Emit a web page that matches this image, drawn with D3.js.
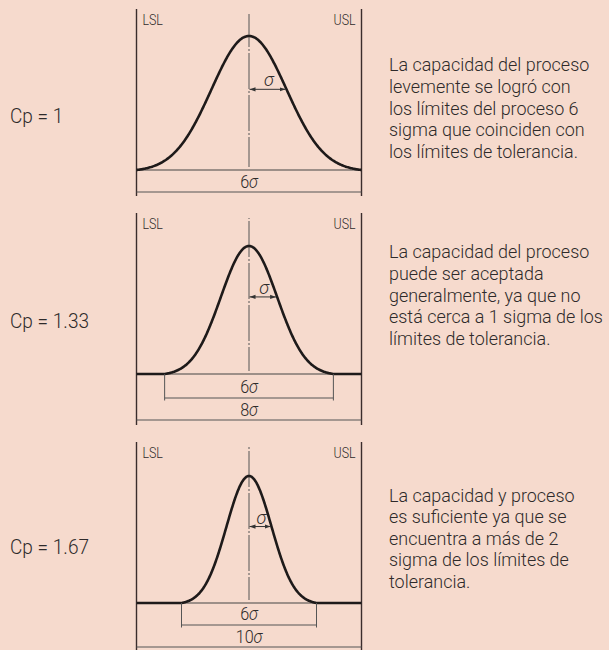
<!DOCTYPE html>
<html>
<head>
<meta charset="utf-8">
<script src="https://cdn.jsdelivr.net/npm/d3@7"></script>
<style>
  html, body { margin: 0; padding: 0; background: #f6dacd; }
  svg { display: block; }
  text { font-family: Roboto, "Open Sans", sans-serif; fill: #2e2a2a; font-weight: 300; }
</style>
</head>
<body>
<svg id="chart" width="609" height="650"></svg>
<script>
// ---------- data ----------
const cpLabels = ["Cp = 1", "Cp = 1.33", "Cp = 1.67"];
const toleranceHalfSigma = [3, 4, 5];          // half tolerance width in sigma units
const processHalfSigma = 3;                     // process spread ±3σ (6σ)
const processLabel = "6σ";
const toleranceLabels = ["6σ", "8σ", "10σ"];
const limitLabels = ["LSL", "USL"];
const descriptions = [
  ["La capacidad del proceso", "levemente se logró con", "los límites del proceso 6", "sigma que coinciden con", "los límites de tolerancia."],
  ["La capacidad del proceso", "puede ser aceptada", "generalmente, ya que no", "está cerca a 1 sigma de los", "límites de tolerancia."],
  ["La capacidad y proceso", "es suficiente ya que se", "encuentra a más de 2", "sigma de los límites de", "tolerancia."]
];

// ---------- layout ----------
const svg = d3.select("#chart");
const xLeft = 136.5, xRight = 361.5;
const panels = [
  {top: 9,   peak: 36,  base: 170, inner: 192, outer: 192, bottom: 196, cpY: 123, textY: 71.5},
  {top: 213, peak: 246, base: 374, inner: 398, outer: 420, bottom: 425, cpY: 328, textY: 258.5},
  {top: 442, peak: 476, base: 603, inner: 625, outer: 647, bottom: 652, cpY: 554, textY: 501.7}
];
const lineGap = 21.6;

// condensed text group: x is the anchor point, text drawn with horizontal squeeze
function condensed(parent, x, sx) {
  return parent.append("g").attr("transform", `translate(${x},0) scale(${sx},1)`);
}

const defs = svg.append("defs");
["start", "end"].forEach(k => {
  defs.append("marker")
    .attr("id", "arrow-" + k)
    .attr("viewBox", "0 0 10 10")
    .attr("refX", k === "end" ? 10 : 0).attr("refY", 5)
    .attr("markerWidth", 6).attr("markerHeight", 6)
    .attr("markerUnits", "userSpaceOnUse")
    .attr("orient", "auto")
    .append("path")
    .attr("d", k === "end" ? "M0,1.5 L10,5 L0,8.5 Z" : "M10,1.5 L0,5 L10,8.5 Z")
    .attr("fill", "#333");
});

const tail = Math.exp(-processHalfSigma * processHalfSigma / 2);
function density(z) {
  if (Math.abs(z) > processHalfSigma) return 0;
  return (Math.exp(-z * z / 2) - tail) / (1 - tail);
}

panels.forEach((p, i) => {
  const g = svg.append("g");
  const half = toleranceHalfSigma[i];
  const x = d3.scaleLinear().domain([-half, half]).range([xLeft, xRight]);
  const y = d3.scaleLinear().domain([0, 1]).range([p.base, p.peak]);

  // LSL / USL verticals
  [-half, half].forEach(v => {
    g.append("line")
      .attr("x1", x(v)).attr("x2", x(v))
      .attr("y1", p.top).attr("y2", p.bottom)
      .attr("stroke", "#3a2c2c").attr("stroke-width", 1.4);
  });
  condensed(g, x(-half) + 6, 0.8).append("text").attr("x", 0).attr("y", p.top + 16)
    .attr("font-size", 15.5).text(limitLabels[0]);
  condensed(g, x(half) - 6, 0.8).append("text").attr("x", 0).attr("y", p.top + 16)
    .attr("font-size", 15.5).attr("text-anchor", "end").text(limitLabels[1]);

  // baseline
  g.append("line")
    .attr("x1", x(-half)).attr("x2", x(half))
    .attr("y1", p.base).attr("y2", p.base)
    .attr("stroke", "#444").attr("stroke-width", 1.2);

  // centre dash-dot line
  g.append("line")
    .attr("x1", x(0)).attr("x2", x(0))
    .attr("y1", p.top + 5).attr("y2", p.base - 3)
    .attr("stroke", "#555").attr("stroke-width", 1)
    .attr("stroke-dasharray", "36,2,2,2")
    .attr("stroke-dashoffset", -(p.peak - p.top - 30));

  // curve
  const pts = d3.range(-half, half + 0.0001, 0.02).map(z => [z, density(z)]);
  const line = d3.line().x(d => x(d[0])).y(d => y(d[1])).curve(d3.curveLinear);
  g.append("path").datum(pts)
    .attr("d", line)
    .attr("fill", "none").attr("stroke", "#1e1a1a").attr("stroke-width", 2.6)
    .attr("stroke-linejoin", "round");

  // sigma arrow at inflection
  const ys = y(density(1));
  g.append("line")
    .attr("x1", x(0) + 0.5).attr("x2", x(1) - 1)
    .attr("y1", ys).attr("y2", ys)
    .attr("stroke", "#333").attr("stroke-width", 1)
    .attr("marker-start", "url(#arrow-start)")
    .attr("marker-end", "url(#arrow-end)");
  g.append("text").attr("x", (x(0) + x(1)) / 2 + 1).attr("y", ys - 3)
    .attr("text-anchor", "middle").attr("font-size", 18)
    .attr("font-style", "italic").text("σ");

  // dimension lines
  if (half !== processHalfSigma) {
    [-processHalfSigma, processHalfSigma].forEach(v => {
      g.append("line")
        .attr("x1", x(v)).attr("x2", x(v))
        .attr("y1", p.base).attr("y2", p.inner + 2.5)
        .attr("stroke", "#555").attr("stroke-width", 1);
    });
    g.append("line")
      .attr("x1", x(-processHalfSigma)).attr("x2", x(processHalfSigma))
      .attr("y1", p.inner).attr("y2", p.inner)
      .attr("stroke", "#555").attr("stroke-width", 1);
    const t = condensed(g, x(0), 0.9).append("text").attr("x", 0).attr("y", p.inner - 4.5)
      .attr("text-anchor", "middle").attr("font-size", 18);
    t.append("tspan").text(processLabel.slice(0, -1));
    t.append("tspan").attr("font-style", "italic").text("σ");
  }
  g.append("line")
    .attr("x1", x(-half)).attr("x2", x(half))
    .attr("y1", p.outer).attr("y2", p.outer)
    .attr("stroke", "#555").attr("stroke-width", 1);
  const lab = toleranceLabels[i];
  const t2 = condensed(g, x(0), 0.9).append("text").attr("x", 0).attr("y", p.outer - 4)
    .attr("text-anchor", "middle").attr("font-size", 18);
  t2.append("tspan").text(lab.slice(0, -1));
  t2.append("tspan").attr("font-style", "italic").text("σ");

  // Cp label
  condensed(svg, 10, 0.93).append("text").attr("x", 0).attr("y", p.cpY)
    .attr("font-size", 20.5).text(cpLabels[i]);

  // description
  const d = condensed(svg, 389, 0.97).append("text").attr("font-size", 18.5);
  descriptions[i].forEach((s, k) => {
    d.append("tspan").attr("x", 0).attr("y", p.textY + k * lineGap).text(s);
  });
});
</script>
</body>
</html>
